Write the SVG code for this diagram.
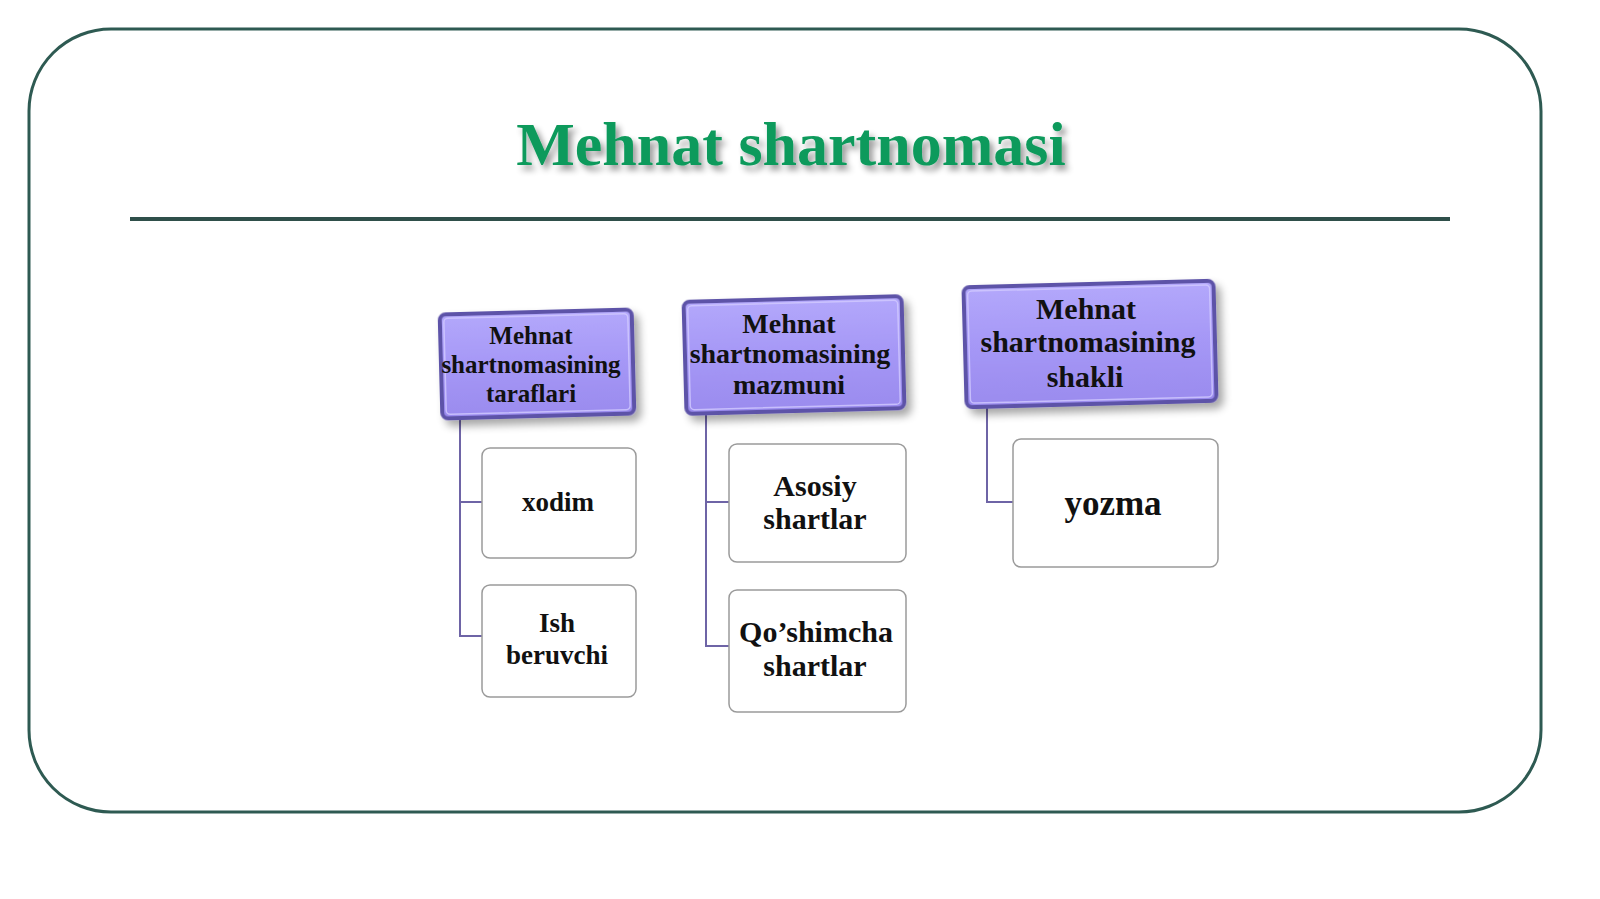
<svg xmlns="http://www.w3.org/2000/svg" width="1600" height="899" viewBox="0 0 1600 899">
<defs>
<linearGradient id="pg" x1="0" y1="0" x2="0" y2="1">
<stop offset="0" stop-color="#b3a8fb"/>
<stop offset="0.5" stop-color="#a597f6"/>
<stop offset="1" stop-color="#9a8bee"/>
</linearGradient>
<filter id="sh" x="-20%" y="-20%" width="150%" height="160%">
<feGaussianBlur in="SourceAlpha" stdDeviation="4"/>
<feOffset dx="5" dy="6" result="b"/>
<feComponentTransfer><feFuncA type="linear" slope="0.35"/></feComponentTransfer>
<feMerge><feMergeNode/><feMergeNode in="SourceGraphic"/></feMerge>
</filter>
<filter id="tsh" x="-10%" y="-30%" width="120%" height="170%">
<feGaussianBlur in="SourceAlpha" stdDeviation="3"/>
<feOffset dx="4" dy="5"/>
<feComponentTransfer><feFuncA type="linear" slope="0.4"/></feComponentTransfer>
<feMerge><feMergeNode/><feMergeNode in="SourceGraphic"/></feMerge>
</filter>
</defs>
<style>
.frame{fill:#ffffff;stroke:#2e5a52;stroke-width:3}
.head{fill:url(#pg);stroke:#5d52a8;stroke-width:4;filter:url(#sh)}
.hl{fill:none;stroke:#d2cbff;stroke-width:1.5;opacity:0.8}
.child{fill:#ffffff;stroke:#9a9a9a;stroke-width:1.5}
.conn{fill:none;stroke:#6e64a6;stroke-width:2}
.t{font-family:"Liberation Serif","Times New Roman",serif;font-weight:bold;fill:#111111;text-anchor:middle}
.title{font-family:"Liberation Serif","Times New Roman",serif;font-weight:bold;fill:#0f9a5c;text-anchor:middle;font-size:62px;filter:url(#tsh)}
</style>
<rect x="0" y="0" width="1600" height="899" fill="#ffffff"/>
<rect class="frame" x="29" y="29" width="1512" height="783" rx="82" ry="82"/>
<text class="title" x="791" y="165">Mehnat shartnomasi</text>
<line x1="130" y1="219" x2="1450" y2="219" stroke="#2f4f4a" stroke-width="4"/>

<g id="connectors">
<path class="conn" d="M460 418 V636 H482 M460 502 H482"/>
<path class="conn" d="M706 412 V646 H729 M706 502 H729"/>
<path class="conn" d="M987 406 V502 H1013"/>
</g>

<g id="n1">
<rect class="head" x="441" y="312" width="192" height="104" rx="6" transform="rotate(-1.5 537 364)"/>
<rect class="hl" x="445" y="316" width="184" height="96" rx="4" transform="rotate(-1.5 537 364)"/>
<text class="t" font-size="25" x="531" y="344">Mehnat</text>
<text class="t" font-size="25" x="531" y="373">shartnomasining</text>
<text class="t" font-size="25" x="531" y="402">taraflari</text>
</g>
<g id="n2">
<rect class="head" x="685" y="299" width="218" height="112" rx="6" transform="rotate(-1.5 794 355)"/>
<rect class="hl" x="689" y="303" width="210" height="104" rx="4" transform="rotate(-1.5 794 355)"/>
<text class="t" font-size="28" x="789" y="333">Mehnat</text>
<text class="t" font-size="28" x="790" y="363">shartnomasining</text>
<text class="t" font-size="28" x="789" y="394">mazmuni</text>
</g>
<g id="n3">
<rect class="head" x="965" y="284" width="250" height="120" rx="6" transform="rotate(-1.5 1090 344)"/>
<rect class="hl" x="969" y="288" width="242" height="112" rx="4" transform="rotate(-1.5 1090 344)"/>
<text class="t" font-size="30" x="1086" y="319">Mehnat</text>
<text class="t" font-size="30" x="1088" y="352">shartnomasining</text>
<text class="t" font-size="30" x="1085" y="387">shakli</text>
</g>

<g id="c1">
<rect class="child" x="482" y="448" width="154" height="110" rx="8"/>
<text class="t" font-size="27" x="558" y="511">xodim</text>
</g>
<g id="c2">
<rect class="child" x="482" y="585" width="154" height="112" rx="8"/>
<text class="t" font-size="27" x="557" y="632">Ish</text>
<text class="t" font-size="27" x="557" y="664">beruvchi</text>
</g>
<g id="c3">
<rect class="child" x="729" y="444" width="177" height="118" rx="8"/>
<text class="t" font-size="30" x="815" y="496">Asosiy</text>
<text class="t" font-size="30" x="815" y="529">shartlar</text>
</g>
<g id="c4">
<rect class="child" x="729" y="590" width="177" height="122" rx="8"/>
<text class="t" font-size="30" x="816" y="642">Qo’shimcha</text>
<text class="t" font-size="30" x="815" y="676">shartlar</text>
</g>
<g id="c5">
<rect class="child" x="1013" y="439" width="205" height="128" rx="8"/>
<text class="t" font-size="35" x="1113" y="515">yozma</text>
</g>
</svg>
